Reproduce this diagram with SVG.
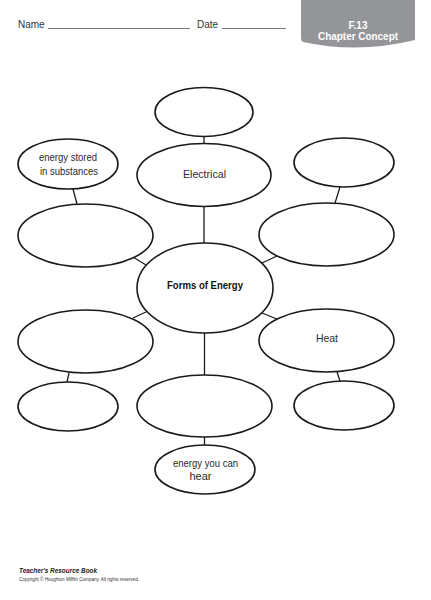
<svg xmlns="http://www.w3.org/2000/svg" width="431" height="600" viewBox="0 0 431 600">
<style>
.n{fill:#fff;stroke:#1a1a1a;stroke-width:1.6}
.c line{stroke:#1a1a1a;stroke-width:1.3}
.t{font-family:"Liberation Sans",Arial,sans-serif;fill:#2a2a2a;font-size:11px;text-anchor:middle}
.b{font-weight:bold;fill:#111}
.h{font-family:"Liberation Sans",Arial,sans-serif;fill:#333;font-size:10px}
.tab{font-family:"Liberation Sans",Arial,sans-serif;fill:#fff;font-weight:bold;font-size:10px;text-anchor:middle}
</style>
<rect width="431" height="600" fill="#fff"/>
<g id="header">
<text class="h" x="18" y="28">Name</text>
<line x1="48" y1="28.5" x2="190" y2="28.5" stroke="#555" stroke-width="0.8"/>
<text class="h" x="197" y="28">Date</text>
<line x1="222" y1="28.5" x2="286" y2="28.5" stroke="#555" stroke-width="0.8"/>
<path d="M301,0 L415,0 L415,40 Q358,54 303,42 Q301,41 301,38 Z" fill="#939598"/>
<text class="tab" x="358" y="29">F.13</text>
<text class="tab" x="358" y="39.5" textLength="80" lengthAdjust="spacingAndGlyphs">Chapter Concept</text>
</g>
<g class="c" id="connectors">
<line x1="204" y1="136" x2="204" y2="144"/>
<line x1="204" y1="206" x2="204" y2="243"/>
<line x1="73" y1="189" x2="77" y2="204"/>
<line x1="340" y1="187" x2="335" y2="203"/>
<line x1="133" y1="257" x2="146" y2="265"/>
<line x1="262" y1="263" x2="277" y2="256"/>
<line x1="133" y1="318" x2="146" y2="312"/>
<line x1="262" y1="313" x2="277" y2="319"/>
<line x1="69" y1="373" x2="67" y2="382"/>
<line x1="337" y1="372" x2="340" y2="381"/>
<line x1="204.5" y1="333" x2="204.5" y2="375"/>
<line x1="204.5" y1="437" x2="204.5" y2="445"/>
</g>
<g id="top"><ellipse class="n" cx="204" cy="112" rx="49" ry="24.5"/></g>
<g id="electrical"><ellipse class="n" cx="204" cy="175" rx="67" ry="31.5"/>
<text class="t" x="204.5" y="178" textLength="43" lengthAdjust="spacingAndGlyphs" font-size="12">Electrical</text></g>
<g id="stored"><ellipse class="n" cx="68" cy="164" rx="50" ry="25"/>
<text class="t" x="68" y="161" textLength="58" lengthAdjust="spacingAndGlyphs">energy stored</text>
<text class="t" x="69" y="175" textLength="58" lengthAdjust="spacingAndGlyphs">in substances</text></g>
<g id="rightsmall"><ellipse class="n" cx="344" cy="162.5" rx="50" ry="24.5"/></g>
<g id="leftupper"><ellipse class="n" cx="85.5" cy="235.5" rx="67.5" ry="31.5"/></g>
<g id="rightupper"><ellipse class="n" cx="326.5" cy="234.5" rx="67.5" ry="31.5"/></g>
<g id="center"><ellipse class="n" cx="205" cy="288" rx="68" ry="45"/>
<text class="t b" x="205" y="289" textLength="76" lengthAdjust="spacingAndGlyphs">Forms of Energy</text></g>
<g id="leftlower"><ellipse class="n" cx="85.5" cy="341.5" rx="67.5" ry="31.5"/></g>
<g id="heat"><ellipse class="n" cx="326.5" cy="340.5" rx="67.5" ry="31.5"/>
<text class="t" x="327" y="342" textLength="22" lengthAdjust="spacingAndGlyphs" font-size="12">Heat</text></g>
<g id="leftbottom"><ellipse class="n" cx="68" cy="406.5" rx="50" ry="24.5"/></g>
<g id="centerbottom"><ellipse class="n" cx="204.5" cy="406" rx="67.5" ry="31"/></g>
<g id="rightbottom"><ellipse class="n" cx="344" cy="405.5" rx="50" ry="24.5"/></g>
<g id="hear"><ellipse class="n" cx="205" cy="469.5" rx="50" ry="24.5"/>
<text class="t" x="205.5" y="467" textLength="65" lengthAdjust="spacingAndGlyphs">energy you can</text>
<text class="t" x="200.5" y="480">hear</text></g>
<g id="footer">
<text x="19" y="573" font-family="'Liberation Sans',Arial,sans-serif" font-size="8" font-weight="bold" font-style="italic" fill="#222" textLength="78" lengthAdjust="spacingAndGlyphs">Teacher's Resource Book</text>
<text x="19" y="581" font-family="'Liberation Sans',Arial,sans-serif" font-size="4.5" fill="#333" textLength="120" lengthAdjust="spacingAndGlyphs">Copyright © Houghton Mifflin Company. All rights reserved.</text>
</g>
</svg>
